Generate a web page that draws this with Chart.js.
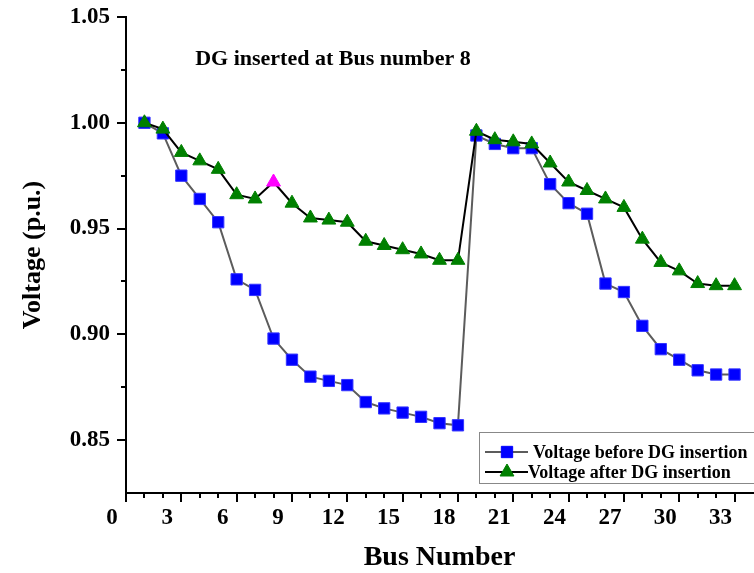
<!DOCTYPE html>
<html>
<head>
<meta charset="utf-8">
<title>Voltage profile</title>
<script src="https://cdn.jsdelivr.net/npm/chart.js@4.4.0/dist/chart.umd.min.js"></script>
<style>
    html, body { margin: 0; padding: 0; background: #fff; }
    #chartContainerVoltage { display: block; }
</style>
</head>
<body>
<canvas id="chartContainerVoltage" width="754" height="573"></canvas>
<script>
const busNumbers = [1, 2, 3, 4, 5, 6, 7, 8, 9, 10, 11, 12, 13, 14, 15, 16, 17,
    18, 19, 20, 21, 22, 23, 24, 25, 26, 27, 28, 29, 30, 31, 32, 33];

const voltageBefore = [1.000, 0.995, 0.975, 0.964, 0.953, 0.926, 0.921, 0.898, 0.888,
    0.880, 0.878, 0.876, 0.868, 0.865, 0.863, 0.861, 0.858, 0.857, 0.994, 0.990, 0.988,
    0.988, 0.971, 0.962, 0.957, 0.924, 0.920, 0.904, 0.893, 0.888, 0.883, 0.881, 0.881];

const voltageAfter = [1.000, 0.997, 0.986, 0.982, 0.978, 0.966, 0.964, 0.972, 0.962,
    0.955, 0.954, 0.953, 0.944, 0.942, 0.940, 0.938, 0.935, 0.935, 0.996, 0.992, 0.991,
    0.990, 0.981, 0.972, 0.968, 0.964, 0.960, 0.945, 0.934, 0.930, 0.924, 0.923, 0.923];

const dgBus = 8;
const xTickLabels = [0, 3, 6, 9, 12, 15, 18, 21, 24, 27, 30, 33];
const yTickLabels = [0.85, 0.90, 0.95, 1.00, 1.05];
const noteText = 'DG inserted at Bus number 8';

const serif = '"Liberation Serif", "Times New Roman", serif';

function toPoints(values) {
    return busNumbers.map((bus, i) => ({ x: bus, y: values[i] }));
}

function isMajorY(v) {
    return yTickLabels.some(t => Math.abs(t - v) < 1e-6);
}

function isMajorX(v) {
    return xTickLabels.some(t => Math.abs(t - v) < 1e-6);
}

// little helper for legend markers
function drawMarker(ctx, style, x, y, r, fill, stroke) {
    ctx.fillStyle = fill;
    ctx.strokeStyle = stroke;
    ctx.lineWidth = 1;
    ctx.beginPath();
    if (style === 'rect') {
        const s = r * Math.SQRT1_2;
        ctx.rect(x - s, y - s, 2 * s, 2 * s);
    } else {
        ctx.moveTo(x, y - r);
        ctx.lineTo(x + Math.sin(2 * Math.PI / 3) * r, y + r / 2);
        ctx.lineTo(x - Math.sin(2 * Math.PI / 3) * r, y + r / 2);
        ctx.closePath();
    }
    ctx.fill();
    ctx.stroke();
}

const extrasPlugin = {
    id: 'extras',
    afterDraw(chart) {
        const ctx = chart.ctx;
        const area = chart.chartArea;
        const xScale = chart.scales.x;
        const yScale = chart.scales.y;

        ctx.save();
        // outward tick marks, longer on labelled values
        ctx.strokeStyle = '#000';
        ctx.lineWidth = 2;
        xScale.ticks.forEach(t => {
            const px = Math.round(xScale.getPixelForValue(t.value));
            if (px > area.right - 1) return;
            const len = isMajorX(t.value) ? 9 : 5;
            ctx.beginPath();
            ctx.moveTo(px, area.bottom);
            ctx.lineTo(px, area.bottom + len);
            ctx.stroke();
        });
        yScale.ticks.forEach(t => {
            if (t.value <= yScale.min + 1e-9) return;
            const py = Math.round(yScale.getPixelForValue(t.value));
            const len = isMajorY(t.value) ? 9 : 5;
            ctx.beginPath();
            ctx.moveTo(area.left, py);
            ctx.lineTo(area.left - len, py);
            ctx.stroke();
        });

        // note text
        ctx.fillStyle = '#000';
        ctx.font = 'bold 22px ' + serif;
        ctx.textAlign = 'left';
        ctx.textBaseline = 'middle';
        ctx.fillText(noteText, xScale.getPixelForValue(3.75), yScale.getPixelForValue(1.03));

        // legend box in lower right corner
        const left = area.right - 274;
        const top = area.bottom - 61;
        ctx.fillStyle = '#fff';
        ctx.fillRect(left, top, 300, 51);
        ctx.strokeStyle = '#888';
        ctx.lineWidth = 1;
        ctx.strokeRect(left + 0.5, top + 0.5, 300, 51);

        const textX = [54, 49];
        chart.data.datasets.forEach((ds, i) => {
            const cy = top + 20 + i * 20;
            ctx.strokeStyle = ds.borderColor;
            ctx.lineWidth = 2;
            ctx.beginPath();
            ctx.moveTo(left + 6, cy);
            ctx.lineTo(left + 49, cy);
            ctx.stroke();
            drawMarker(ctx, ds.pointStyle, left + 28, cy, ds.pointRadius, ds.legendFill, ds.legendFill);
            ctx.fillStyle = '#000';
            ctx.font = 'bold 18px ' + serif;
            ctx.textAlign = 'left';
            ctx.textBaseline = 'middle';
            ctx.fillText(ds.label, left + textX[i], cy + 1);
        });
        ctx.restore();
    }
};

function initVoltageChart() {
    let canvas = document.getElementById('chartContainerVoltage');

    let afterColors = busNumbers.map(b => b === dgBus ? '#ff00ff' : '#008000');

    new Chart(canvas, {
        type: 'line',
        data: {
            datasets: [
                {
                    label: 'Voltage before DG insertion',
                    data: toPoints(voltageBefore),
                    borderColor: '#5c5c5c',
                    borderWidth: 2,
                    pointStyle: 'rect',
                    pointRadius: 8,
                    pointBackgroundColor: '#0000ff',
                    pointBorderColor: '#3434ff',
                    pointBorderWidth: 1,
                    legendFill: '#0000ff',
                    tension: 0,
                    fill: false,
                    clip: false,
                    order: 2
                },
                {
                    label: 'Voltage after DG insertion',
                    data: toPoints(voltageAfter),
                    borderColor: '#000000',
                    borderWidth: 2,
                    pointStyle: 'triangle',
                    pointRadius: 8,
                    pointBackgroundColor: afterColors,
                    pointBorderColor: afterColors,
                    pointBorderWidth: 1,
                    legendFill: '#008000',
                    tension: 0,
                    fill: false,
                    clip: false,
                    order: 1
                }
            ]
        },
        options: {
            responsive: false,
            animation: false,
            devicePixelRatio: 1,
            layout: { autoPadding: false, padding: { top: 17, right: 1, left: 0, bottom: 0 } },
            plugins: {
                legend: { display: false },
                tooltip: { enabled: false }
            },
            scales: {
                x: {
                    type: 'linear',
                    min: 0,
                    max: 34,
                    afterFit: function (scale) {
                        scale.height = 80;
                        scale.paddingLeft = 0;
                        scale.paddingRight = 0;
                    },
                    grid: { display: false, drawTicks: false },
                    border: { display: true, color: '#000', width: 2 },
                    ticks: {
                        stepSize: 1,
                        maxTicksLimit: 100,
                        autoSkip: false,
                        maxRotation: 0,
                        padding: 11,
                        labelOffset: -14,
                        color: '#000',
                        font: { family: serif, size: 23, weight: 'bold' },
                        callback: v => isMajorX(v) ? String(Math.round(v)) : ''
                    },
                    title: {
                        display: true,
                        text: 'Bus Number',
                        color: '#000',
                        font: { family: serif, size: 28, weight: 'bold', lineHeight: 1 },
                        padding: { top: 0, bottom: 1 }
                    }
                },
                y: {
                    type: 'linear',
                    min: 0.825,
                    max: 1.05,
                    afterFit: function (scale) {
                        scale.width = 126;
                        scale.paddingTop = 0;
                        scale.paddingBottom = 0;
                    },
                    grid: { display: false, drawTicks: false },
                    border: { display: true, color: '#000', width: 2 },
                    ticks: {
                        stepSize: 0.025,
                        maxTicksLimit: 100,
                        autoSkip: false,
                        padding: 16,
                        color: '#000',
                        font: { family: serif, size: 23, weight: 'bold' },
                        callback: v => isMajorY(v) ? v.toFixed(2) : ''
                    },
                    title: {
                        display: true,
                        text: 'Voltage (p.u.)',
                        color: '#000',
                        font: { family: serif, size: 26, weight: 'bold', lineHeight: 1 },
                        padding: { top: 20, bottom: 0 }
                    }
                }
            }
        },
        plugins: [extrasPlugin]
    });
}

window.addEventListener('load', initVoltageChart);
</script>
</body>
</html>
